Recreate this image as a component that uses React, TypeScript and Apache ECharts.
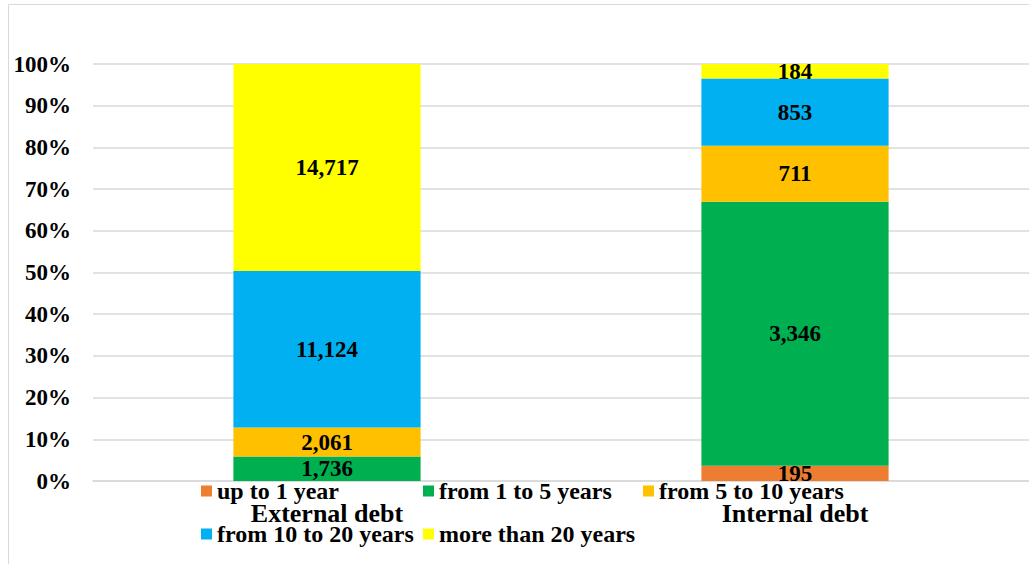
import React, { useEffect, useRef } from "react";
import * as echarts from "echarts";

const categories = ["External debt", "Internal debt"];
const seriesNames = [
  "up to 1 year",
  "from 1 to 5 years",
  "from 5 to 10 years",
  "from 10 to 20 years",
  "more than 20 years",
];
const upTo1Year = [0, 195];
const from1To5 = [1736, 3346];
const from5To10 = [2061, 711];
const from10To20 = [11124, 853];
const moreThan20 = [14717, 184];
const colors = ["#ED7D31", "#00B050", "#FFC000", "#00B0F0", "#FFFF00"];
const yTicks = [0, 10, 20, 30, 40, 50, 60, 70, 80, 90, 100];

const FONT = "Liberation Serif";

export default function App() {
  const ref = useRef<HTMLDivElement>(null);
  useEffect(() => {
    if (!ref.current) return;
    const chart = echarts.init(ref.current, null, { renderer: "svg" });
    const raw = [upTo1Year, from1To5, from5To10, from10To20, moreThan20];
    const totals = categories.map((_, i) => raw.reduce((s, arr) => s + arr[i], 0));
    const series = raw.map((arr, si) => ({
      name: seriesNames[si],
      type: "bar",
      stack: "total",
      barWidth: "40%",
      itemStyle: { color: colors[si] },
      label: {
        show: true,
        position: "inside",
        color: "#000",
        fontWeight: "bold",
        fontSize: 23,
        fontFamily: FONT,
        formatter: (p: any) => {
          const v = arr[p.dataIndex];
          return v === 0 ? "" : v.toLocaleString("en-US");
        },
      },
      data: arr.map((v, i) => (v / totals[i]) * 100),
    }));
    const legendRows = [
      { left: 201, top: 491 },
      { left: 423, top: 491 },
      { left: 643, top: 491 },
      { left: 201, top: 534 },
      { left: 423, top: 534 },
    ];
    chart.setOption({
      animation: false,
      graphic: [
        {
          type: "rect",
          shape: { x: 8.5, y: 4.5, width: 1200, height: 800 },
          style: { fill: "none", stroke: "#d9d9d9", lineWidth: 1 },
          silent: true,
        },
      ],
      legend: seriesNames.map((n, i) => ({
        data: [n],
        left: legendRows[i].left,
        top: legendRows[i].top - 12,
        icon: "rect",
        itemWidth: 11,
        itemHeight: 11,
        itemGap: 5,
        padding: 0,
        selectedMode: false,
        textStyle: {
          color: "#000",
          fontWeight: "bold",
          fontSize: 24,
          fontFamily: FONT,
          lineHeight: 24,
          padding: [0, 0, 0, 0],
        },
      })),
      grid: { left: 93, top: 64, width: 942, height: 417, containLabel: false },
      xAxis: {
        type: "category",
        data: categories,
        axisTick: { show: false },
        axisLine: { show: true, lineStyle: { color: "#d9d9d9", width: 1.5 } },
        axisLabel: {
          color: "#000",
          fontWeight: "bold",
          fontSize: 26,
          fontFamily: FONT,
          margin: 19,
        },
      },
      yAxis: {
        type: "value",
        min: 0,
        max: 100,
        interval: 10,
        axisLine: { show: false },
        axisTick: { show: false },
        splitLine: { lineStyle: { color: "#d9d9d9", width: 1.5 } },
        axisLabel: {
          color: "#000",
          fontWeight: "bold",
          fontSize: 23,
          fontFamily: FONT,
          margin: 22,
          formatter: (v: number) => (yTicks.includes(v) ? v + "%" : ""),
        },
      },
      series,
    });
    return () => chart.dispose();
  }, []);
  return (
    <div
      ref={ref}
      style={{ position: "fixed", left: 0, top: 0, width: 1029, height: 564, background: "#fff" }}
    />
  );
}
